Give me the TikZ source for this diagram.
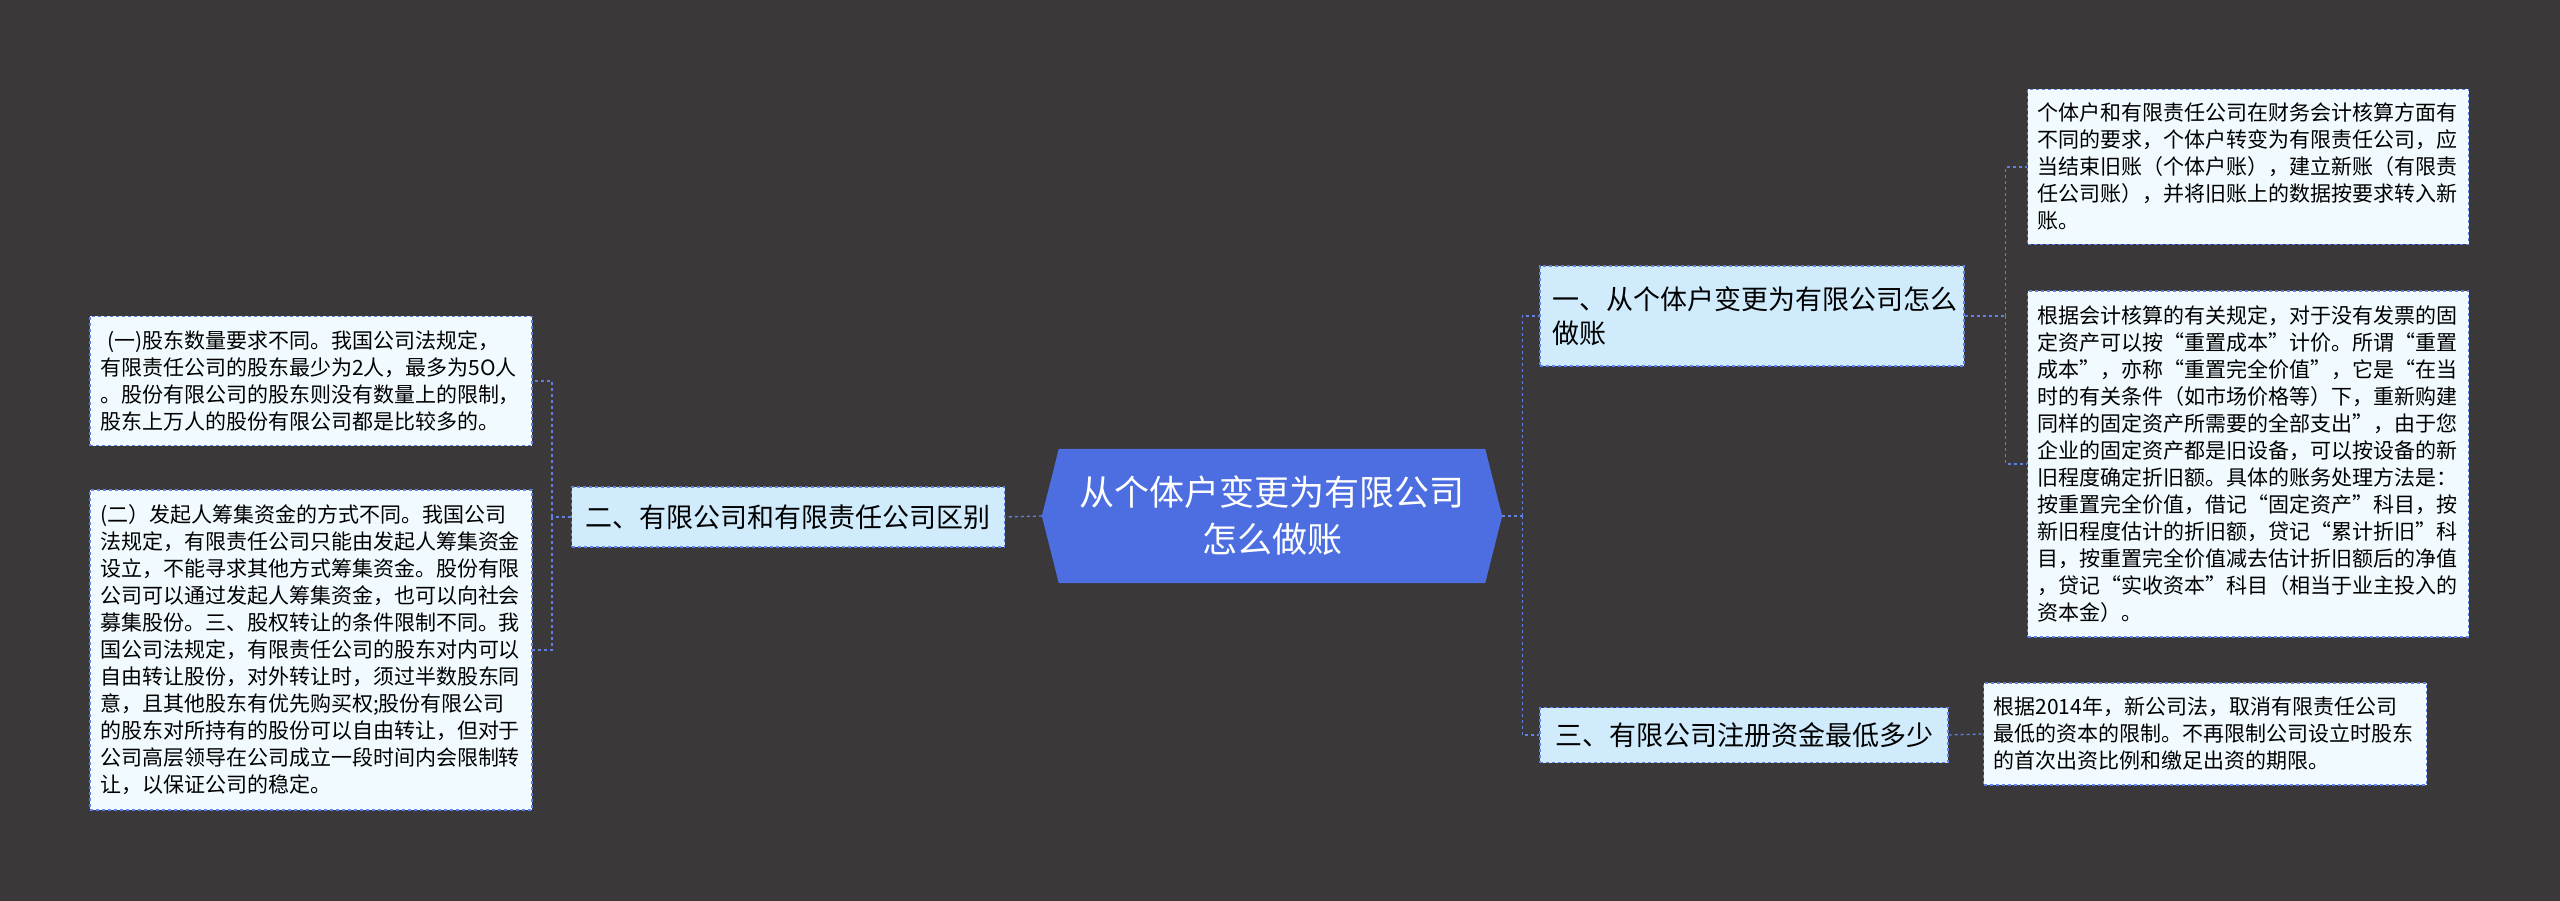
\documentclass[tikz,border=0pt]{standalone}
\usepackage{fontspec}
\newfontfamily\cjk{Noto Sans CJK SC}
\usetikzlibrary{positioning,backgrounds}
\definecolor{bgdark}{HTML}{3A3839}
\definecolor{linkblue}{HTML}{6180E6}
\definecolor{rootblue}{HTML}{4C6EE0}
\definecolor{topicfill}{HTML}{CFEBFC}
\definecolor{leaffill}{HTML}{F1FAFE}
\tikzset{
  link/.style={draw=linkblue, dashed, line width=1.3pt},
  topic/.style={draw=linkblue, dashed, line width=1.3pt, fill=topicfill, align=left,
    font=\cjk\fontsize{27}{34}\selectfont, inner xsep=12pt, inner ysep=6pt},
  leaf/.style={draw=linkblue, dashed, line width=1.3pt, fill=leaffill, align=left,
    font=\cjk\fontsize{21}{27}\selectfont, inner xsep=10pt, inner ysep=8pt}
}
\begin{document}
\begin{tikzpicture}[x=1pt,y=-1pt]
\useasboundingbox (0,0) rectangle (2560,901);
\begin{scope}[on background layer]
  \fill[bgdark] (0,0) rectangle (2560,901);
\end{scope}
% root
\node[font=\cjk\fontsize{35}{47}\selectfont, text=white, align=center,
      minimum width=460pt, minimum height=134pt] (root) at (1272,516)
  {从个体户变更为有限公司\\怎么做账};
\begin{scope}[on background layer]
  \fill[rootblue] (root.west) -- ([xshift=17pt]root.north west) -- ([xshift=-17pt]root.north east)
    -- (root.east) -- ([xshift=-17pt]root.south east) -- ([xshift=17pt]root.south west) -- cycle;
\end{scope}
% left branch
\node[topic, minimum width=433pt, minimum height=60pt] (n2) at (788,517) {二、有限公司和有限责任公司区别};
\node[leaf, text width=422pt, minimum height=129pt] (l1) at (311,381)
  {\ (一)股东数量要求不同。我国公司法规定，\\有限责任公司的股东最少为2人，最多为5O人\\。股份有限公司的股东则没有数量上的限制，\\股东上万人的股份有限公司都是比较多的。};
\node[leaf, text width=422pt, minimum height=320pt] (l2) at (311,650)
  {(二）发起人筹集资金的方式不同。我国公司\\法规定，有限责任公司只能由发起人筹集资金\\设立，不能寻求其他方式筹集资金。股份有限\\公司可以通过发起人筹集资金，也可以向社会\\募集股份。三、股权转让的条件限制不同。我\\国公司法规定，有限责任公司的股东对内可以\\自由转让股份，对外转让时，须过半数股东同\\意，且其他股东有优先购买权;股份有限公司\\的股东对所持有的股份可以自由转让，但对于\\公司高层领导在公司成立一段时间内会限制转\\让，以保证公司的稳定。};
% right branch
\node[topic, text width=400pt, minimum height=100pt] (n1) at (1752,316) {一、从个体户变更为有限公司怎么\\做账};
\node[topic, minimum width=408pt, minimum height=55pt] (n3) at (1744,735) {三、有限公司注册资金最低多少};
\node[leaf, text width=421pt, minimum height=155pt] (r1) at (2248,167)
  {个体户和有限责任公司在财务会计核算方面有\\不同的要求，个体户转变为有限责任公司，应\\当结束旧账（个体户账），建立新账（有限责\\任公司账），并将旧账上的数据按要求转入新\\账。};
\node[leaf, text width=421pt, minimum height=346pt] (r2) at (2248,464)
  {根据会计核算的有关规定，对于没有发票的固\\定资产可以按“重置成本”计价。所谓“重置\\成本”，亦称“重置完全价值”，它是“在当\\时的有关条件（如市场价格等）下，重新购建\\同样的固定资产所需要的全部支出”，由于您\\企业的固定资产都是旧设备，可以按设备的新\\旧程度确定折旧额。具体的账务处理方法是：\\按重置完全价值，借记“固定资产”科目，按\\新旧程度估计的折旧额，贷记“累计折旧”科\\目，按重置完全价值减去估计折旧额后的净值\\，贷记“实收资本”科目（相当于业主投入的\\资本金）。};
\node[leaf, text width=423pt, minimum height=102pt] (r3) at (2205,734)
  {根据2014年，新公司法，取消有限责任公司\\最低的资本的限制。不再限制公司设立时股东\\的首次出资比例和缴足出资的期限。};
% connectors
\draw[link] (root.west) -- (n2.east);
\draw[link] (n2.west) -- ++(-19pt,0) coordinate (ls);
\draw[link] (ls) |- (l1.east);
\draw[link] (ls) |- (l2.east);
\draw[link] (root.east) -- ++(20pt,0) coordinate (rs);
\draw[link] (rs) |- (n1.west);
\draw[link] (rs) |- (n3.west);
\draw[link] (n1.east) -- ++(41pt,0) coordinate (ts);
\draw[link] (ts) |- (r1.west);
\draw[link] (ts) |- (r2.west);
\draw[link] (n3.east) -- (r3.west);
\end{tikzpicture}
\end{document}
